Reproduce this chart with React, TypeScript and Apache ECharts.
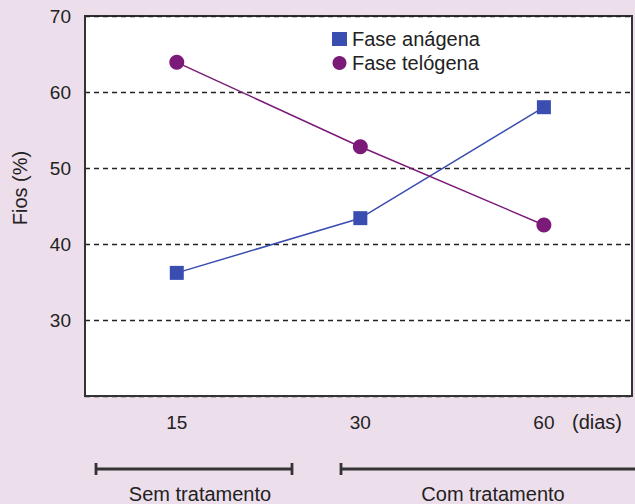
import React, { useEffect, useRef } from "react";
import * as echarts from "echarts";

const days = ["15", "30", "60"];
const positions = [1, 2, 3];
const anagena = [36.2, 43.4, 58.0];
const telogena = [63.9, 52.8, 42.5];
const yTicks = [30, 40, 50, 60, 70];

export default function App() {
  const ref = useRef<HTMLDivElement>(null);
  useEffect(() => {
    if (!ref.current) return;
    const chart = echarts.init(ref.current, null, { renderer: "svg" });
    const font = "Liberation Sans, Arial, sans-serif";
    chart.setOption({
      animation: false,
      backgroundColor: "#eddeec",
      textStyle: { fontFamily: font },
      grid: {
        left: 85,
        top: 16,
        width: 547,
        height: 380,
        show: true,
        backgroundColor: "#ffffff",
        borderColor: "#333333",
        borderWidth: 2,
      },
      legend: {
        left: 327,
        top: 24,
        orient: "vertical",
        itemGap: 4,
        itemWidth: 15,
        itemHeight: 14,
        textStyle: { fontSize: 20, color: "#222", fontFamily: font },
        data: [
          { name: "Fase anágena", icon: "rect" },
          { name: "Fase telógena", icon: "circle" },
        ],
      },
      xAxis: {
        type: "value",
        min: 0.5,
        max: 3.48,
        axisLine: { show: true, lineStyle: { color: "#333", width: 2 } },
        axisTick: { show: false },
        splitLine: { show: false },
        axisLabel: {
          customValues: positions,
          formatter: (v: number) => days[positions.indexOf(v)] ?? "",
          fontSize: 19,
          color: "#222",
          margin: 17,
          fontFamily: font,
        },
      },
      yAxis: {
        type: "value",
        min: 20,
        max: 70,
        interval: 10,
        axisLine: { show: true, lineStyle: { color: "#333", width: 2 } },
        axisTick: { show: false },
        axisLabel: {
          formatter: (v: number) => (yTicks.includes(v) ? String(v) : ""),
          fontSize: 19,
          color: "#222",
          margin: 14,
          fontFamily: font,
        },
        splitLine: {
          show: true,
          lineStyle: { color: "#222", type: [5, 4], width: 1.3 },
        },
      },
      series: [
        {
          name: "Fase anágena",
          type: "line",
          data: positions.map((p, i) => [p, anagena[i]]),
          symbol: "rect",
          symbolSize: 14,
          itemStyle: { color: "#3a4db0" },
          lineStyle: { color: "#3a4db0", width: 1.5 },
        },
        {
          name: "Fase telógena",
          type: "line",
          data: positions.map((p, i) => [p, telogena[i]]),
          symbol: "circle",
          symbolSize: 15,
          itemStyle: { color: "#7b1a78" },
          lineStyle: { color: "#7b1a78", width: 1.5 },
        },
      ],
      graphic: [
        {
          type: "text",
          x: 20,
          y: 188,
          rotation: Math.PI / 2,
          style: {
            text: "Fios (%)",
            fontSize: 20,
            fill: "#222",
            fontFamily: font,
            align: "center",
            verticalAlign: "middle",
          },
        },
        {
          type: "text",
          x: 572,
          y: 422,
          style: {
            text: "(dias)",
            fontSize: 20,
            fill: "#222",
            fontFamily: font,
            verticalAlign: "middle",
          },
        },
        {
          type: "line",
          shape: { x1: 96, y1: 469, x2: 292, y2: 469 },
          style: { stroke: "#333", lineWidth: 2.8 },
        },
        {
          type: "line",
          shape: { x1: 96, y1: 463, x2: 96, y2: 475 },
          style: { stroke: "#333", lineWidth: 2.8 },
        },
        {
          type: "line",
          shape: { x1: 292, y1: 463, x2: 292, y2: 475 },
          style: { stroke: "#333", lineWidth: 2.8 },
        },
        {
          type: "line",
          shape: { x1: 341, y1: 469, x2: 640, y2: 469 },
          style: { stroke: "#333", lineWidth: 2.8 },
        },
        {
          type: "line",
          shape: { x1: 341, y1: 463, x2: 341, y2: 475 },
          style: { stroke: "#333", lineWidth: 2.8 },
        },
        {
          type: "text",
          x: 200,
          y: 494,
          style: {
            text: "Sem tratamento",
            fontSize: 20,
            fill: "#222",
            fontFamily: font,
            align: "center",
            verticalAlign: "middle",
          },
        },
        {
          type: "text",
          x: 493,
          y: 494,
          style: {
            text: "Com tratamento",
            fontSize: 20,
            fill: "#222",
            fontFamily: font,
            align: "center",
            verticalAlign: "middle",
          },
        },
      ],
    });
    return () => chart.dispose();
  }, []);
  return (
    <div
      ref={ref}
      style={{ position: "absolute", left: 0, top: 0, width: 635, height: 504 }}
    />
  );
}
